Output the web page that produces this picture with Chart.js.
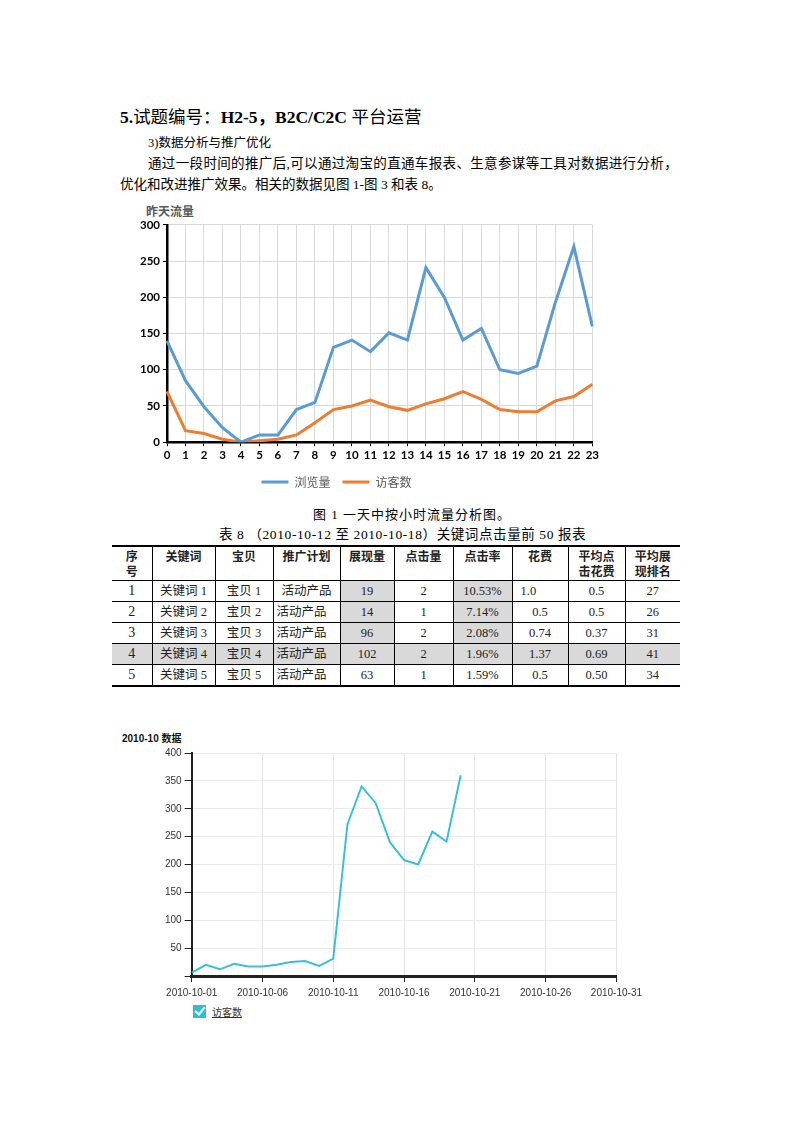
<!DOCTYPE html>
<html>
<head>
<meta charset="utf-8">
<script src="https://cdn.jsdelivr.net/npm/chart.js@4.4.0/dist/chart.umd.min.js"></script>
<style>
  body { margin: 0; background: #fff; }
  #page { position: relative; width: 793px; height: 1122px; overflow: hidden; font-family: "Liberation Serif", "Noto Sans CJK SC", serif; color: #000; }
  .abs { position: absolute; white-space: nowrap; }
  .p { font-size: 13.5px; line-height: 16px; }
  .cn { font-weight: normal; }
  table { border-collapse: collapse; table-layout: fixed; position: absolute; left: 112px; top: 545px; }
  td { border: 1px solid #000; font-size: 12.5px; text-align: center; padding: 0; height: 20px; line-height: 20px; font-family: "Liberation Serif", "Noto Sans CJK SC", serif; color: #222; }
  tr td:first-child { border-left: none; }
  tr td:last-child { border-right: none; }
  tr.head td { font-family: "Noto Sans CJK SC", sans-serif; font-weight: bold; font-size: 12px; line-height: 15px; height: 32px; vertical-align: top; padding-top: 1px; border-top: 2px solid #000; }
  tr.last td { border-bottom: 2px solid #000; }
  td.g { background: #d9d9d9; }
  td.n { font-size: 14px; }
  td.l { text-align: left; padding-left: 8px; }
</style>
</head>
<body>
<div id="page">
  <div class="abs" style="left:120px; top:106px; font-size:17.5px; font-weight:bold; line-height:22px;">5.<span class="cn">试题编号：</span>H2-5，B2C/C2C <span class="cn">平台运营</span></div>
  <div class="abs p" style="left:148px; top:135px; font-size:12.5px;">3)数据分析与推广优化</div>
  <div class="abs p" style="left:148px; top:156px; letter-spacing:0.35px;">通过一段时间的推广后,可以通过淘宝的直通车报表、生意参谋等工具对数据进行分析，</div>
  <div class="abs p" style="left:120px; top:177px;">优化和改进推广效果。相关的数据见图 1-图 3 和表 8。</div>

  <div class="abs" style="left:146px; top:202px; font-family:'Noto Sans CJK SC',sans-serif; font-weight:bold; font-size:12px; color:#595959;">昨天流量</div>
  <div class="abs" style="left:72px; top:215px; width:529px; height:283px;"><canvas id="hourChart"></canvas></div>

  <div class="abs p" style="left:313px; top:507px; font-size:13px; letter-spacing:1px;">图 1 一天中按小时流量分析图。</div>
  <div class="abs p" style="left:219px; top:527px; font-size:13.5px; letter-spacing:0.6px;">表 8 （2010-10-12 至 2010-10-18）关键词点击量前 50 报表</div>

  <table>
    <colgroup>
      <col style="width:40px"><col style="width:63px"><col style="width:58px"><col style="width:67px"><col style="width:54px">
      <col style="width:59px"><col style="width:59px"><col style="width:56px"><col style="width:57px"><col style="width:55px">
    </colgroup>
    <tr class="head"><td>序<br>号</td><td>关键词</td><td>宝贝</td><td>推广计划</td><td>展现量</td><td>点击量</td><td>点击率</td><td>花费</td><td>平均点<br>击花费</td><td>平均展<br>现排名</td></tr>
    <tr><td class="n">1</td><td>关键词 1</td><td>宝贝 1</td><td>活动产品</td><td class="g">19</td><td>2</td><td class="g">10.53%</td><td class="l">1.0</td><td>0.5</td><td>27</td></tr>
    <tr><td class="n">2</td><td>关键词 2</td><td>宝贝 2</td><td class="l" style="padding-left:3px">活动产品</td><td class="g">14</td><td>1</td><td class="g">7.14%</td><td>0.5</td><td>0.5</td><td>26</td></tr>
    <tr><td class="n">3</td><td>关键词 3</td><td>宝贝 3</td><td class="l" style="padding-left:3px">活动产品</td><td class="g">96</td><td>2</td><td class="g">2.08%</td><td>0.74</td><td>0.37</td><td>31</td></tr>
    <tr><td class="n g">4</td><td class="g">关键词 4</td><td class="g">宝贝 4</td><td class="l g" style="padding-left:3px">活动产品</td><td class="g">102</td><td class="g">2</td><td class="g">1.96%</td><td class="g">1.37</td><td class="g">0.69</td><td class="g">41</td></tr>
    <tr class="last"><td class="n">5</td><td>关键词 5</td><td>宝贝 5</td><td class="l" style="padding-left:3px">活动产品</td><td>63</td><td>1</td><td>1.59%</td><td>0.5</td><td>0.50</td><td>34</td></tr>
  </table>

  <div class="abs" style="left:122px; top:730px; font-family:'Liberation Sans',Arial,'Noto Sans CJK SC',sans-serif; font-weight:bold; font-size:10px; color:#111;">2010-10 数据</div>
  <div class="abs" style="left:110px; top:740px; width:537px; height:264px;"><canvas id="dayChart"></canvas></div>
  <div class="abs" style="left:193px; top:1005px; width:13px; height:13px; background:#2fbcd8;">
    <div style="position:absolute; left:4px; top:0px; width:4px; height:8px; border-right:2px solid #fff; border-bottom:2px solid #fff; transform:rotate(40deg);"></div>
  </div>
  <div class="abs" style="left:212px; top:1005px; font-family:'Noto Sans CJK SC',sans-serif; font-size:10px; line-height:14px; color:#333; text-decoration:underline;">访客数</div>
</div>

<script>
// figure 1: hourly traffic
const hours = ['0','1','2','3','4','5','6','7','8','9','10','11','12','13','14','15','16','17','18','19','20','21','22','23'];
const pageViews = [140, 85, 49, 20, 0, 10, 10, 45, 55, 131, 141, 125, 151, 141, 241, 200, 141, 157, 100, 95, 105, 193, 270, 160];
const visitors = [70, 16, 12, 4, 0, 2, 4, 10, 27, 45, 50, 58, 49, 44, 53, 60, 70, 59, 45, 42, 42, 57, 63, 80];
const hourYTicks = [0, 50, 100, 150, 200, 250, 300];

// figure 2: october daily visitors
const days = [1, 2, 3, 4, 5, 6, 7, 8, 9, 10, 11, 12, 13, 14, 15, 16, 17, 18, 19, 20];
const dayVisitors = [6, 20, 12, 22, 17, 17, 20, 25, 27, 18, 31, 272, 340, 310, 240, 208, 200, 259, 241, 360];
const dayTicks = [1, 6, 11, 16, 21, 26, 31];

const boldTick = { family: 'Lato, "Liberation Sans", sans-serif', size: 11.5, weight: 'bold' };

new Chart(document.getElementById('hourChart'), {
  type: 'line',
  data: {
    labels: hours,
    datasets: [
      { label: '浏览量', data: pageViews, borderColor: '#5b9bd5', backgroundColor: '#5b9bd5', borderWidth: 3, pointRadius: 0, tension: 0 },
      { label: '访客数', data: visitors, borderColor: '#ed7d31', backgroundColor: '#ed7d31', borderWidth: 3, pointRadius: 0, tension: 0 }
    ]
  },
  options: {
    responsive: true,
    maintainAspectRatio: false,
    animation: false,
    layout: { padding: { left: 0, right: 0, top: 7, bottom: 0 } },
    plugins: {
      legend: {
        position: 'bottom',
        labels: {
          boxWidth: 27, boxHeight: 3, padding: 12,
          color: '#595959',
          font: { family: '"Noto Sans CJK SC", sans-serif', size: 12 },
          generateLabels: chart => Chart.defaults.plugins.legend.labels.generateLabels(chart).map(l => ({ ...l, lineWidth: 0 }))
        }
      },
      tooltip: { enabled: false }
    },
    scales: {
      x: {
        offset: false,
        grid: { color: '#d9d9d9', tickColor: '#000', tickLength: 4 },
        border: { color: '#000', width: 2.5 },
        ticks: { color: '#000', font: boldTick, maxRotation: 0, autoSkip: false, padding: 2 }
      },
      y: {
        min: 0, max: 300,
        afterBuildTicks: axis => { axis.ticks = hourYTicks.map(v => ({ value: v })); },
        afterFit: axis => { axis.width = 95; },
        grid: { color: '#d9d9d9', tickColor: '#000', tickLength: 4 },
        border: { color: '#000', width: 2.5 },
        ticks: { color: '#000', font: boldTick, padding: 3 }
      }
    }
  }
});

new Chart(document.getElementById('dayChart'), {
  type: 'line',
  data: {
    datasets: [
      { label: '访客数', data: days.map((d, i) => ({ x: d, y: dayVisitors[i] })), borderColor: '#3cbfd6', borderWidth: 2, pointRadius: 0, tension: 0 }
    ]
  },
  options: {
    responsive: true,
    maintainAspectRatio: false,
    animation: false,
    layout: { padding: { left: 52, right: 5, top: 13, bottom: 0 } },
    plugins: { legend: { display: false }, tooltip: { enabled: false } },
    scales: {
      x: {
        type: 'linear', min: 1, max: 31,
        afterBuildTicks: axis => { axis.ticks = dayTicks.map(v => ({ value: v })); },
        grid: { color: '#e3e3e3', tickColor: '#222', tickLength: 6 },
        border: { color: '#222', width: 3 },
        ticks: {
          color: '#333', padding: 5, maxRotation: 0,
          font: { family: '"Liberation Sans", Arial, sans-serif', size: 10 },
          callback: v => '2010-10-' + String(v).padStart(2, '0')
        }
      },
      y: {
        min: 0, max: 400,
        ticks: {
          stepSize: 50, color: '#333', padding: 3,
          font: { family: '"Liberation Sans", Arial, sans-serif', size: 10 },
          callback: v => v === 0 ? '' : v
        },
        grid: { color: '#ebebeb', tickColor: '#222', tickLength: 7 },
        border: { color: '#222', width: 2 }
      }
    }
  }
});
</script>
</body>
</html>
